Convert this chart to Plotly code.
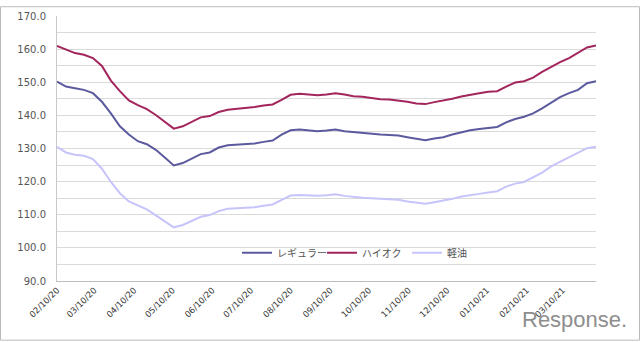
import pandas as pd
import plotly.graph_objects as go

dates = pd.date_range("2020-02-10", periods=61, freq="7D")

regular = [150.2, 148.7, 148.2, 147.7, 146.7, 144.1, 140.6, 136.7, 134.2, 132.2,
           131.3, 129.6, 127.3, 124.9, 125.6, 127.0, 128.3, 128.8, 130.3, 131.0,
           131.1, 131.2, 131.5, 132.0, 132.4, 134.2, 135.5, 135.7, 135.5, 135.2,
           135.4, 135.7, 135.2, 134.9, 134.6, 134.4, 134.2, 134.1, 133.9, 133.4,
           132.9, 132.5, 133.0, 133.4, 134.2, 134.9, 135.5, 135.9, 136.2, 136.5,
           137.9, 138.9, 139.6, 140.6, 142.1, 143.9, 145.5, 146.7, 147.7, 149.7,
           150.3]

highoctane = [161.0, 159.8, 158.8, 158.3, 157.3, 154.9, 150.5, 147.3, 144.5, 143.1,
              141.9, 140.1, 138.1, 136.0, 136.7, 138.0, 139.4, 139.8, 141.0, 141.7,
              141.9, 142.1, 142.5, 143.0, 143.3, 144.7, 146.2, 146.5, 146.2, 146.1,
              146.3, 146.7, 146.3, 145.8, 145.6, 145.2, 144.9, 144.8, 144.5, 144.1,
              143.6, 143.4, 144.0, 144.4, 145.0, 145.7, 146.3, 146.7, 147.1, 147.3,
              148.7, 149.9, 150.3, 151.4, 153.1, 154.7, 156.1, 157.3, 158.8, 160.5,
              161.1]

diesel = [130.5, 128.8, 128.1, 127.8, 126.8, 123.9, 119.9, 116.5, 114.0, 112.9,
          111.6, 109.8, 107.9, 106.2, 106.9, 108.1, 109.4, 109.9, 111.1, 111.8,
          111.9, 112.0, 112.3, 112.7, 113.1, 114.5, 115.8, 116.0, 115.9, 115.7,
          115.9, 116.2, 115.7, 115.3, 115.1, 115.0, 114.8, 114.7, 114.5, 114.0,
          113.6, 113.3, 113.8, 114.2, 114.8, 115.5, 116.0, 116.3, 116.7, 117.1,
          118.5, 119.4, 119.9, 121.2, 122.7, 124.6, 126.0, 127.4, 128.8, 130.1,
          130.5]

series_names = ["レギュラー", "ハイオク", "軽油"]
series_colors = ["#5B5A9E", "#A2255C", "#C6C4FA"]

fig = go.Figure()
for name, vals, col in zip(series_names, [regular, highoctane, diesel], series_colors):
    fig.add_trace(go.Scatter(x=dates, y=vals, mode="lines", name=name,
                             line=dict(color=col, width=2)))

W, H = 640, 342
L, R, T, B = 57, 44, 10, 61
pw, ph = W - L - R, H - T - B

fig.update_layout(
    width=W, height=H,
    margin=dict(l=L, r=R, t=T, b=B),
    paper_bgcolor="white", plot_bgcolor="white",
    font=dict(family="DejaVu Sans", size=10, color="#444444"),
    showlegend=True,
    legend=dict(orientation="h", x=(237 - L) / pw, y=(H - B - 252) / ph,
                xanchor="left", yanchor="middle", bgcolor="rgba(0,0,0,0)",
                font=dict(family="Noto Sans CJK JP", size=10, color="#555555"),
                itemwidth=30, entrywidth=40, entrywidthmode="pixels"),
    xaxis=dict(type="date", range=[dates[0], dates[-1]],
               tick0="2020-02-10", dtick="M1", tickformat="%m/%d/%y",
               tickangle=-45, tickfont=dict(size=8.5, color="#333333"),
               showgrid=False, showline=True, linecolor="#BDBDBD", linewidth=1,
               ticks="", zeroline=False),
    yaxis=dict(range=[90, 170], dtick=10, tick0=90, tickformat=".1f",
               tickfont=dict(size=10, color="#555555"),
               showgrid=True, gridcolor="#DADADA", gridwidth=1,
               minor=dict(dtick=5, showgrid=True, gridcolor="#DADADA", gridwidth=1),
               showline=True, linecolor="#C8C8C8", linewidth=1,
               ticks="outside", ticklen=8, tickcolor="rgba(0,0,0,0)",
               zeroline=False),
    shapes=[dict(type="rect", xref="paper", yref="paper",
                 x0=(0.5 - L) / pw, x1=(639.5 - L) / pw,
                 y0=(H - B - 341.5) / ph, y1=(H - B - 0.5) / ph,
                 line=dict(color="#BBBBBB", width=1), layer="below")],
    annotations=[dict(text="Response.", xref="paper", yref="paper",
                      x=(574 - L) / pw, y=(H - B - 320) / ph,
                      xanchor="center", yanchor="middle", showarrow=False,
                      font=dict(family="Liberation Sans", size=22, color="#8E8E8E"))],
)

fig.write_html("out.html")
